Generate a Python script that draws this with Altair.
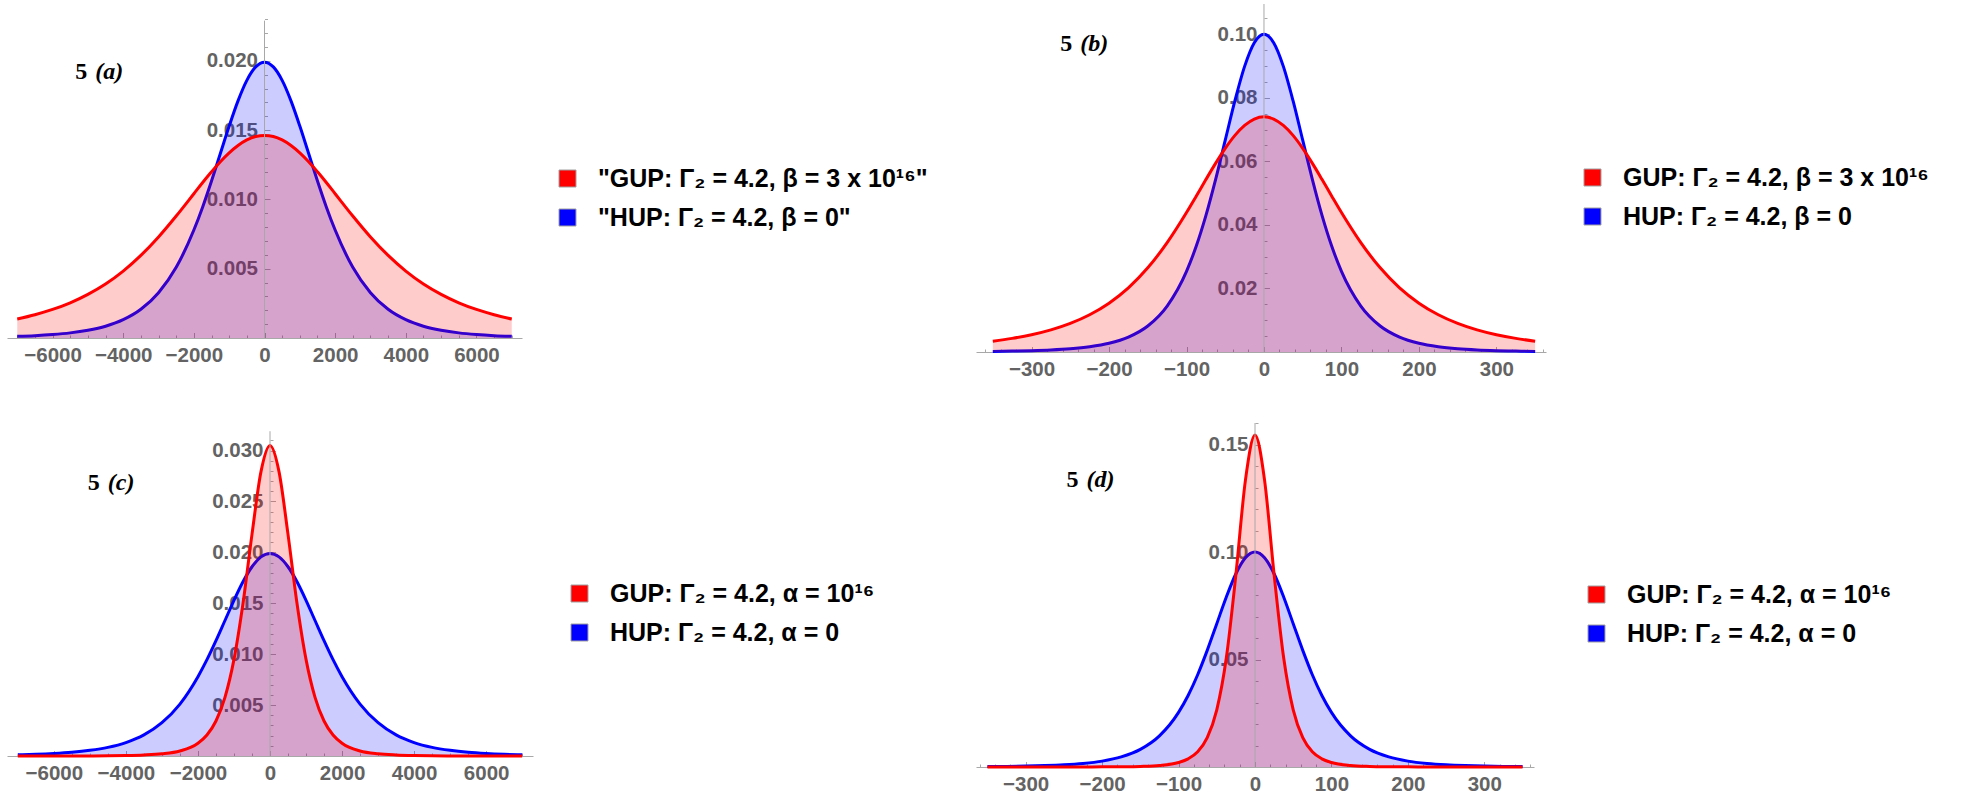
import altair as alt
import pandas as pd

# ---------------------------------------------------------------------------
# Sampled profiles (symmetric about x = 0)
# ---------------------------------------------------------------------------
X_WIDE = [-7000, -6500, -6000, -5500, -5000, -4500, -4000, -3500, -3000, -2500,
          -2000, -1750, -1500, -1250, -1000, -750, -500, -250, 0, 250, 500, 750,
          1000, 1250, 1500, 1750, 2000, 2500, 3000, 3500, 4000, 4500, 5000, 5500,
          6000, 6500, 7000]

HUP_WIDE = [0.00012, 0.00017, 0.00025, 0.00037, 0.00056, 0.00085, 0.00132, 0.00207,
            0.00327, 0.00510, 0.00779, 0.00946, 0.01133, 0.01331, 0.01529, 0.01711,
            0.01859, 0.01956, 0.0199, 0.01956, 0.01859, 0.01711, 0.01529, 0.01331,
            0.01133, 0.00946, 0.00779, 0.00510, 0.00327, 0.00207, 0.00132, 0.00085,
            0.00056, 0.00037, 0.00025, 0.00017, 0.00012]

GUP_BETA_WIDE = [0.00137, 0.00168, 0.00206, 0.00254, 0.00315, 0.00390, 0.00483, 0.00596,
                 0.00729, 0.00880, 0.01041, 0.01122, 0.01199, 0.01272, 0.01336, 0.01389,
                 0.01429, 0.01454, 0.01462, 0.01454, 0.01429, 0.01389, 0.01336, 0.01272,
                 0.01199, 0.01122, 0.01041, 0.00880, 0.00729, 0.00596, 0.00483, 0.00390,
                 0.00315, 0.00254, 0.00206, 0.00168, 0.00137]

GUP_ALPHA_WIDE = [0.000002, 0.000003, 0.000005, 0.000008, 0.00001, 0.00003, 0.00005, 0.00010,
                  0.00021, 0.00049, 0.00125, 0.00206, 0.00344, 0.00576, 0.00949, 0.01498,
                  0.02177, 0.02793, 0.0305, 0.02793, 0.02177, 0.01498, 0.00949, 0.00576,
                  0.00344, 0.00206, 0.00125, 0.00049, 0.00021, 0.00010, 0.00005, 0.00003,
                  0.00001, 0.000008, 0.000005, 0.000003, 0.000002]

X_NARROW = [-350, -325, -300, -275, -250, -225, -200, -175, -150, -125, -100, -87.5,
            -75, -62.5, -50, -37.5, -25, -12.5, 0, 12.5, 25, 37.5, 50, 62.5, 75, 87.5,
            100, 125, 150, 175, 200, 225, 250, 275, 300, 325, 350]

HUP_NARROW = [0.00019, 0.00028, 0.00042, 0.00064, 0.00101, 0.00165, 0.00274, 0.00469,
              0.00819, 0.01447, 0.02539, 0.03325, 0.04291, 0.05424, 0.06665, 0.07907,
              0.08988, 0.09733, 0.1000, 0.09733, 0.08988, 0.07907, 0.06665, 0.05424,
              0.04291, 0.03325, 0.02539, 0.01447, 0.00819, 0.00469, 0.00274, 0.00165,
              0.00101, 0.00064, 0.00042, 0.00028, 0.00019]

GUP_BETA_NARROW = [0.00341, 0.00429, 0.00544, 0.00697, 0.00901, 0.01173, 0.01537, 0.02019,
                   0.02648, 0.03441, 0.04388, 0.04902, 0.05425, 0.05935, 0.06408, 0.06816,
                   0.07131, 0.07331, 0.0740, 0.07331, 0.07131, 0.06816, 0.06408, 0.05935,
                   0.05425, 0.04902, 0.04388, 0.03441, 0.02648, 0.02019, 0.01537, 0.01173,
                   0.00901, 0.00697, 0.00544, 0.00429, 0.00341]

GUP_ALPHA_NARROW = [0.000002, 0.000004, 0.000006, 0.00001, 0.00002, 0.00003, 0.00006, 0.00012,
                    0.00028, 0.00072, 0.00210, 0.00379, 0.00708, 0.01364, 0.02660, 0.05081,
                    0.08951, 0.13344, 0.1544, 0.13344, 0.08951, 0.05081, 0.02660, 0.01364,
                    0.00708, 0.00379, 0.00210, 0.00072, 0.00028, 0.00012, 0.00006, 0.00003,
                    0.00002, 0.00001, 0.000006, 0.000004, 0.000002]

# Legend texts
LEG_A = ['"GUP: Γ₂ = 4.2, β = 3 x 10¹⁶"', '"HUP: Γ₂ = 4.2, β = 0"']
LEG_B = ['GUP: Γ₂ = 4.2, β = 3 x 10¹⁶', 'HUP: Γ₂ = 4.2, β = 0']
LEG_CD = ['GUP: Γ₂ = 4.2, α = 10¹⁶', 'HUP: Γ₂ = 4.2, α = 0']

# Axis ticks
X_TICKS_WIDE = [-6000, -4000, -2000, 0, 2000, 4000, 6000]
X_TICKS_NARROW = [-300, -200, -100, 0, 100, 200, 300]

RED = "#ff0000"
BLUE = "#0000ff"
AXIS_GRAY = "#a8a8a8"
LABEL_GRAY = "#636363"
SANS = "Liberation Sans"
SERIF = "Liberation Serif"


def major_test(step):
    return f"abs(datum.value/{step} - round(datum.value/{step})) < 1e-6"


def panel(x, gup, hup, labels, tag, *, x_domain, width, height, y_top, axis_top,
          x_labels, x_minor, x_step, y_labels, y_minor, y_step, y_fmt,
          tag_pos, legend_pos):
    df = pd.DataFrame({"x": x, "gup": gup, "hup": hup})
    x0 = width * (0 - x_domain[0]) / (x_domain[1] - x_domain[0])
    xs = alt.Scale(domain=x_domain, nice=False, zero=False)
    ys = alt.Scale(domain=[0, y_top], nice=False, zero=False)

    label_font = dict(labelFont=SANS, labelFontWeight="bold", labelFontSize=20.5,
                      labelColor=LABEL_GRAY, labelOverlap=False, labelFlush=False,
                      grid=False, title=None)

    x_label_axis = alt.Axis(orient="bottom", values=x_labels, format="d", ticks=False,
                            tickSize=0, domain=True, domainColor=AXIS_GRAY, domainWidth=1,
                            labelPadding=7, **label_font)
    y_label_axis = alt.Axis(orient="left", offset=-x0, values=y_labels, format=y_fmt,
                            ticks=False, tickSize=0, domain=False, labelPadding=7,
                            **label_font)
    x_tick_axis = alt.Axis(orient="top", offset=-height, values=x_minor, labels=False,
                           domain=False, ticks=True, tickColor=AXIS_GRAY, tickWidth=1,
                           tickSize={"condition": {"test": major_test(x_step), "value": 5.5},
                                     "value": 3},
                           grid=False, title=None)
    y_tick_axis = alt.Axis(orient="right", offset=-(width - x0), values=y_minor,
                           labels=False, domain=False, ticks=True, tickColor=AXIS_GRAY,
                           tickWidth=1,
                           tickSize={"condition": {"test": major_test(y_step), "value": 5.5},
                                     "value": 3},
                           grid=False, title=None)

    base = alt.Chart(df)
    hup_area = base.mark_area(color=BLUE, fillOpacity=0.2, interpolate="monotone").encode(
        x=alt.X("x:Q", scale=xs, axis=x_label_axis),
        y=alt.Y("hup:Q", scale=ys, axis=y_label_axis),
    )
    hup_line = base.mark_line(color=BLUE, strokeWidth=3, interpolate="monotone").encode(
        x=alt.X("x:Q", scale=xs, axis=x_tick_axis),
        y=alt.Y("hup:Q", scale=ys, axis=y_tick_axis),
    )
    gup_area = base.mark_area(color=RED, fillOpacity=0.2, interpolate="monotone").encode(
        x=alt.X("x:Q", scale=xs, axis=None),
        y=alt.Y("gup:Q", scale=ys, axis=None),
    )
    gup_line = base.mark_line(color=RED, strokeWidth=3, interpolate="monotone").encode(
        x=alt.X("x:Q", scale=xs, axis=None),
        y=alt.Y("gup:Q", scale=ys, axis=None),
    )

    # vertical axis line through x = 0
    axis_df = pd.DataFrame({"x": [0], "lo": [0.0], "hi": [axis_top]})
    y_axis_line = alt.Chart(axis_df).mark_rule(color=AXIS_GRAY, strokeWidth=1).encode(
        x=alt.X("x:Q", scale=xs, axis=None),
        y=alt.Y("lo:Q", scale=ys, axis=None),
        y2="hi:Q",
    )

    tag_df = pd.DataFrame({"x": [tag_pos[0]], "y": [tag_pos[1]]})
    tag_num = alt.Chart(tag_df).mark_text(
        text="5", align="left", baseline="middle", font=SERIF, fontWeight="bold",
        fontSize=24, color="black",
    ).encode(x=alt.X("x:Q", scale=xs, axis=None), y=alt.Y("y:Q", scale=ys, axis=None))
    tag_letter = alt.Chart(tag_df).mark_text(
        text=f"({tag})", align="left", baseline="middle", font=SERIF, fontWeight="bold",
        fontStyle="italic", fontSize=24, color="black", dx=20,
    ).encode(x=alt.X("x:Q", scale=xs, axis=None), y=alt.Y("y:Q", scale=ys, axis=None))

    leg_df = pd.DataFrame({"series": labels})
    legend = alt.Chart(leg_df).mark_square(opacity=0).encode(
        fill=alt.Fill(
            "series:N",
            scale=alt.Scale(domain=labels, range=[RED, BLUE]),
            legend=alt.Legend(
                orient="none", legendX=legend_pos[0], legendY=legend_pos[1], title=None,
                symbolType="square", symbolSize=289, symbolOpacity=1,
                symbolStrokeColor="#a0a0a0", symbolStrokeWidth=1,
                labelFont=SANS, labelFontWeight="bold", labelFontSize=25,
                labelColor="black", labelLimit=900, labelOffset=18, rowPadding=13,
                padding=0,
            ),
        )
    )

    return alt.layer(
        hup_area, hup_line, gup_area, gup_line, y_axis_line, tag_num, tag_letter, legend
    ).resolve_axis(x="independent", y="independent").properties(width=width, height=height)


wide_minor = list(range(-7000, 7001, 500))
narrow_minor = list(range(-360, 361, 20))

pa = panel(X_WIDE, GUP_BETA_WIDE, HUP_WIDE, LEG_A, "a",
           x_domain=[-7290, 7290], width=515, height=334, y_top=0.0241, axis_top=0.0229,
           x_labels=X_TICKS_WIDE, x_minor=wide_minor, x_step=2000,
           y_labels=[0.005, 0.010, 0.015, 0.020],
           y_minor=[k / 1000 for k in range(1, 24)], y_step=0.005, y_fmt=".3f",
           tag_pos=(-5358, 0.0192), legend_pos=(548, 162))

pb = panel(X_NARROW, GUP_BETA_NARROW, HUP_NARROW, LEG_B, "b",
           x_domain=[-371.7, 364], width=570, height=348, y_top=0.1095, axis_top=0.1095,
           x_labels=X_TICKS_NARROW, x_minor=narrow_minor, x_step=100,
           y_labels=[0.02, 0.04, 0.06, 0.08, 0.10],
           y_minor=[k * 5 / 1000 for k in range(1, 22)], y_step=0.02, y_fmt=".2f",
           tag_pos=(-263, 0.0969), legend_pos=(604, 161))

pc = panel(X_WIDE, GUP_ALPHA_WIDE, HUP_WIDE, LEG_CD, "c",
           x_domain=[-7300, 7300], width=526, height=333, y_top=0.03271, axis_top=0.0319,
           x_labels=X_TICKS_WIDE, x_minor=wide_minor, x_step=2000,
           y_labels=[0.005, 0.010, 0.015, 0.020, 0.025, 0.030],
           y_minor=[k / 1000 for k in range(1, 32)], y_step=0.005, y_fmt=".3f",
           tag_pos=(-5058, 0.0268), legend_pos=(560, 158))

pd_ = panel(X_NARROW, GUP_ALPHA_NARROW, HUP_NARROW, LEG_CD, "d",
            x_domain=[-365, 365], width=558, height=344, y_top=0.16, axis_top=0.16,
            x_labels=X_TICKS_NARROW, x_minor=narrow_minor, x_step=100,
            y_labels=[0.05, 0.10, 0.15],
            y_minor=[k / 100 for k in range(1, 17)], y_step=0.05, y_fmt=".2f",
            tag_pos=(-246.5, 0.1336), legend_pos=(608, 159))

chart = (
    alt.concat(pa, pb, pc, pd_, columns=2, spacing={"row": 71, "column": 443},
               bounds="flush")
    .resolve_scale(fill="independent")
    .resolve_legend(fill="independent")
    .properties(padding={"left": 7, "top": 3, "right": 0, "bottom": 0},
                background="white")
    .configure_view(stroke=None)
    .configure_axis(grid=False)
)

chart.save("out.html", embed_options={"renderer": "svg", "actions": False})
